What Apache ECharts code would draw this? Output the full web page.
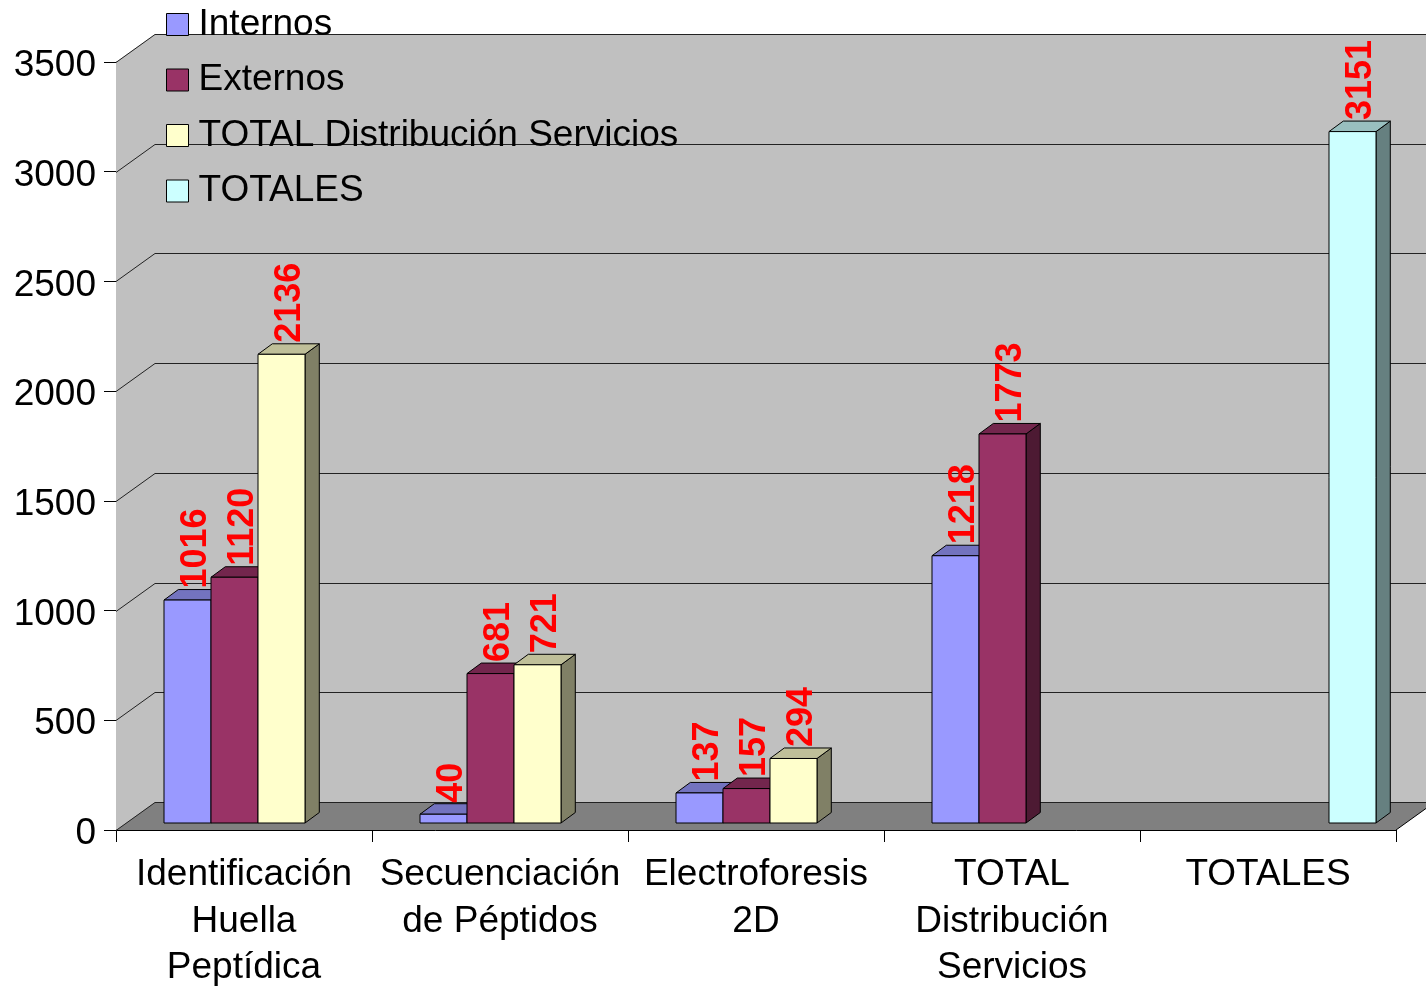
<!DOCTYPE html>
<html>
<head>
<meta charset="utf-8">
<script src="https://cdn.jsdelivr.net/npm/echarts/dist/echarts.min.js"></script>
<style>
  html, body { margin: 0; padding: 0; background: #fff; }
  #chart { width: 1426px; height: 986px; }
</style>
</head>
<body>
<div id="chart"></div>
<script>
// datos
const categories = ['Identificación\nHuella\nPeptídica', 'Secuenciación\nde Péptidos', 'Electroforesis\n2D', 'TOTAL\nDistribución\nServicios', 'TOTALES'];
const internos = [1016, 40, 137, 1218, null];
const externos = [1120, 681, 157, 1773, null];
const totalDist = [2136, 721, 294, null, null];
const totales = [null, null, null, null, 3151];
const yTicks = [0, 500, 1000, 1500, 2000, 2500, 3000, 3500];

const FONT = 'Liberation Sans, Arial, sans-serif';
// profundidad de la pared
const DX = 39, DY = -28;
// profundidad de la barra
const BX = 14.3, BY = -10.5, BOFF = 7;

let chart = echarts.init(document.getElementById('chart'));

function toData(arr) {
  let out = [];
  arr.forEach((v, i) => { if (v != null) out.push([i, v]); });
  return out;
}

// pared, suelo y líneas de división
function wallRender(params, api) {
  let cs = params.coordSys;
  let gx = cs.x, gw = cs.width;
  let y0 = api.coord([0, 0])[1];
  let yTop = api.coord([0, yTicks[yTicks.length - 1]])[1];
  let children = [
    {type: 'rect', shape: {x: gx + DX, y: yTop + DY, width: gw + 60, height: y0 - yTop}, style: {fill: '#C0C0C0'}},
    {type: 'polygon', shape: {points: [[gx, yTop], [gx + DX, yTop + DY], [gx + DX, y0 + DY], [gx, y0]]}, style: {fill: '#C0C0C0'}},
    {type: 'polygon', shape: {points: [[gx, y0], [gx + gw, y0], [gx + gw + DX, y0 + DY], [gx + DX, y0 + DY]]}, style: {fill: '#808080'}},
    {type: 'line', shape: {x1: gx + gw, y1: y0, x2: gx + gw + DX, y2: y0 + DY}, style: {stroke: '#000', lineWidth: 1}}
  ];
  yTicks.forEach(t => {
    let y = Math.round(api.coord([0, t])[1]) + 0.5;
    children.push({
      type: 'polyline',
      shape: {points: [[gx, y], [gx + DX, y + DY], [gx + gw + DX + 20, y + DY]]},
      style: {stroke: '#222', lineWidth: 1, fill: null}
    });
  });
  return {type: 'group', children: children};
}

function barRender(idx, front, top, side) {
  return (params, api) => {
    let c = api.value(0), v = api.value(1);
    let band = params.coordSys.width / categories.length;
    let base = api.coord([c, 0]);
    let tip = api.coord([c, v]);
    let w = band * 47 / 256;
    let x0 = base[0] - band / 2 + band * 48 / 256 + idx * w;
    let yb = base[1] - BOFF, yt = tip[1] - BOFF;
    let edge = {stroke: '#000', lineWidth: 1};
    return {
      type: 'group',
      children: [
        {type: 'polygon', shape: {points: [[x0 + w, yt], [x0 + w + BX, yt + BY], [x0 + w + BX, yb + BY], [x0 + w, yb]]}, style: Object.assign({fill: side}, edge)},
        {type: 'polygon', shape: {points: [[x0, yt], [x0 + BX, yt + BY], [x0 + w + BX, yt + BY], [x0 + w, yt]]}, style: Object.assign({fill: top}, edge)},
        {type: 'rect', shape: {x: x0, y: yt, width: w, height: yb - yt}, style: Object.assign({fill: front}, edge)},
        {
          type: 'text',
          x: x0 + w / 2 + BX / 2 + 1,
          y: yt + BY - 1,
          rotation: Math.PI / 2,
          style: {
            text: String(v), align: 'left', verticalAlign: 'middle',
            fill: '#FF0000', font: 'bold 36px ' + FONT
          }
        }
      ]
    };
  };
}

let seriesDefs = [
  {name: 'Internos', data: internos, front: '#9999FF', top: '#7373BF', side: '#4D4D80'},
  {name: 'Externos', data: externos, front: '#993366', top: '#73264D', side: '#4D1A33'},
  {name: 'TOTAL Distribución Servicios', data: totalDist, front: '#FFFFCC', top: '#BFBF99', side: '#808066'},
  {name: 'TOTALES', data: totales, front: '#CCFFFF', top: '#99BFBF', side: '#668080'}
];

let series = [{
  name: 'pared',
  type: 'custom',
  z: 1,
  silent: true,
  renderItem: wallRender,
  data: [[0, 0]]
}];
seriesDefs.forEach((s, i) => {
  series.push({
    name: s.name,
    type: 'custom',
    z: 2,
    itemStyle: {color: s.front},
    renderItem: barRender(i, s.front, s.top, s.side),
    encode: {x: 0, y: 1},
    data: toData(s.data)
  });
});

let option = {
  backgroundColor: '#fff',
  animation: false,
  textStyle: {fontFamily: FONT},
  grid: {left: 116, right: 30, top: 62, bottom: 156, containLabel: false, outerBoundsMode: 'none'},
  legend: {
    orient: 'vertical',
    left: 166,
    top: 6,
    padding: 0,
    itemWidth: 22,
    itemHeight: 22,
    itemGap: 18.5,
    icon: 'rect',
    data: seriesDefs.map(s => s.name),
    itemStyle: {borderColor: '#000', borderWidth: 1},
    textStyle: {fontSize: 37, lineHeight: 36, color: '#000', fontFamily: FONT, padding: [0, 0, 0, 5]}
  },
  xAxis: {
    type: 'category',
    data: categories,
    axisLine: {lineStyle: {color: '#000', width: 1}},
    axisTick: {show: true, length: 12, interval: 0, lineStyle: {color: '#000'}},
    axisLabel: {interval: 0, fontSize: 37, lineHeight: 46.5, color: '#000', margin: 22, fontFamily: FONT}
  },
  yAxis: {
    type: 'value',
    min: 0,
    max: 3500,
    interval: 500,
    axisLine: {show: true, lineStyle: {color: '#555', width: 1}},
    axisTick: {show: true, length: 12, lineStyle: {color: '#000'}},
    axisLabel: {
      margin: 20,
      formatter: v => '{a|' + v + '}',
      rich: {a: {fontSize: 37, color: '#000', fontFamily: FONT, padding: [8, 0, 0, 0]}}
    },
    splitLine: {show: false}
  },
  series: series
};

chart.setOption(option);

window.onresize = () => {
  chart.resize();
};
</script>
</body>
</html>
